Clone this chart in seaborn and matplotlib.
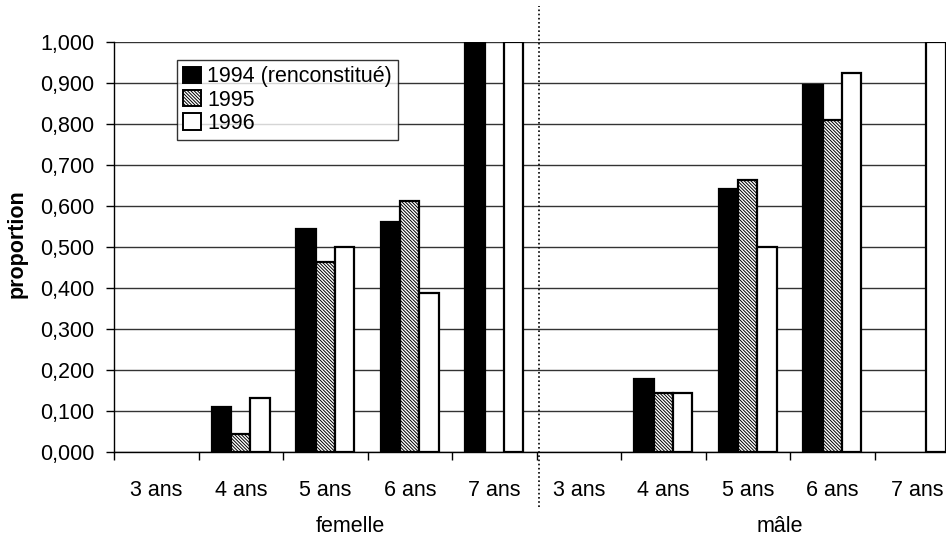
import numpy as np
import pandas as pd
import matplotlib
matplotlib.use("Agg")
import matplotlib.pyplot as plt
import seaborn as sns
from matplotlib.patches import Patch
from matplotlib.ticker import FuncFormatter
import matplotlib.transforms as mtransforms

# ---- data ----
sexes = ["femelle", "mâle"]
ages = ["3 ans", "4 ans", "5 ans", "6 ans", "7 ans"]
years = ["1994 (renconstitué)", "1995", "1996"]

femelle_1994 = [np.nan, 0.110, 0.544, 0.561, 1.000]
femelle_1995 = [np.nan, 0.044, 0.463, 0.612, np.nan]
femelle_1996 = [np.nan, 0.132, 0.500, 0.388, 1.000]
male_1994 = [np.nan, 0.178, 0.641, 0.895, np.nan]
male_1995 = [np.nan, 0.145, 0.663, 0.810, np.nan]
male_1996 = [np.nan, 0.143, 0.500, 0.925, 1.000]

series = {
    ("femelle", years[0]): femelle_1994,
    ("femelle", years[1]): femelle_1995,
    ("femelle", years[2]): femelle_1996,
    ("mâle", years[0]): male_1994,
    ("mâle", years[1]): male_1995,
    ("mâle", years[2]): male_1996,
}

rows = []
for (sex, yr), vals in series.items():
    for age, v in zip(ages, vals):
        rows.append({"cat": f"{sex}|{age}", "year": yr, "value": v})
df = pd.DataFrame(rows)
order = [f"{s}|{a}" for s in sexes for a in ages]

# ---- figure ----
plt.rcParams["font.family"] = ["Liberation Sans", "DejaVu Sans"]
plt.rcParams["hatch.color"] = "#8a8a8a"
plt.rcParams["hatch.linewidth"] = 0.7
FS = 15.5
W, H = 946, 537
fig = plt.figure(figsize=(W / 100, H / 100), dpi=100)
left_px, right_px, top_px, bot_px = 114, 959, 42, 452
ax = fig.add_axes([left_px / W, 1 - bot_px / H, (right_px - left_px) / W, (bot_px - top_px) / H])

sns.barplot(data=df, x="cat", y="value", hue="year", order=order, hue_order=years,
            width=0.69, ax=ax, errorbar=None, legend=False, zorder=3)

styles = [
    dict(facecolor="black", hatch=None),
    dict(facecolor="white", hatch="\\" * 10),
    dict(facecolor="white", hatch=None),
]
for cont, st in zip(ax.containers, styles):
    for p in cont.patches:
        p.set_facecolor(st["facecolor"])
        p.set_edgecolor("black")
        p.set_linewidth(1.6)
        if st["hatch"]:
            p.set_hatch(st["hatch"])

ax.set_xlim(-0.5, 9.5)
ax.set_ylim(0, 1.0)
ax.set_yticks(np.arange(0, 1.0001, 0.1))
ax.yaxis.set_major_formatter(FuncFormatter(lambda v, p: f"{v:.3f}".replace(".", ",")))
ax.grid(axis="y", color="#333333", linewidth=1.0, zorder=0)
ax.set_axisbelow(True)

# x ticks: marks at boundaries, labels at centers
ax.set_xticks(np.arange(-0.5, 10, 1.0))
ax.set_xticklabels([])
ax.set_xticks(np.arange(10), minor=True)
ax.set_xticklabels(ages * 2, minor=True)
ax.tick_params(axis="x", which="major", length=6, width=1, color="black", direction="out")
ax.tick_params(axis="x", which="minor", length=0, pad=20, labelsize=FS)
ax.tick_params(axis="y", length=6, width=1, direction="out", labelsize=FS, pad=8)
ax.set_xlabel("")

for s in ["top", "right"]:
    ax.spines[s].set_visible(False)
for s in ["left", "bottom"]:
    ax.spines[s].set_color("black")
    ax.spines[s].set_linewidth(1.0)

ax.set_ylabel("proportion", fontsize=FS, fontweight="bold")
ax.yaxis.set_label_coords((28 - left_px) / (right_px - left_px), (bot_px - 244) / (bot_px - top_px))

# group labels
trans = mtransforms.blended_transform_factory(ax.transData, ax.transAxes)
def px_to_x(px):
    return (px - left_px) / ((right_px - left_px) / 10) - 0.5
ylab = (bot_px - 526) / (bot_px - top_px)
ax.text(px_to_x(350), ylab, sexes[0], transform=trans, ha="center", va="center", fontsize=FS)
ax.text(px_to_x(780), ylab, sexes[1], transform=trans, ha="center", va="center", fontsize=FS)

# dotted separator
ax.plot([px_to_x(539)] * 2, [(bot_px - 507) / (bot_px - top_px), (bot_px - 6) / (bot_px - top_px)],
        transform=trans, color="black", linestyle=(0, (1, 1.5)), linewidth=1.2, clip_on=False, zorder=5)

# legend
handles = [Patch(facecolor=st["facecolor"], edgecolor="black", hatch=st["hatch"], linewidth=1.4)
           for st in styles]
leg = ax.legend(handles, years, loc="upper left",
                bbox_to_anchor=((177 - left_px) / (right_px - left_px), (bot_px - 60) / (bot_px - top_px)),
                frameon=True, fancybox=False, fontsize=FS, handlelength=0.8, handleheight=0.8,
                handletextpad=0.3, labelspacing=0.1, borderpad=0.3, borderaxespad=0)
leg.get_frame().set_edgecolor("black")
leg.get_frame().set_linewidth(1.0)
leg.set_zorder(6)

fig.savefig("out.png", dpi=100)
